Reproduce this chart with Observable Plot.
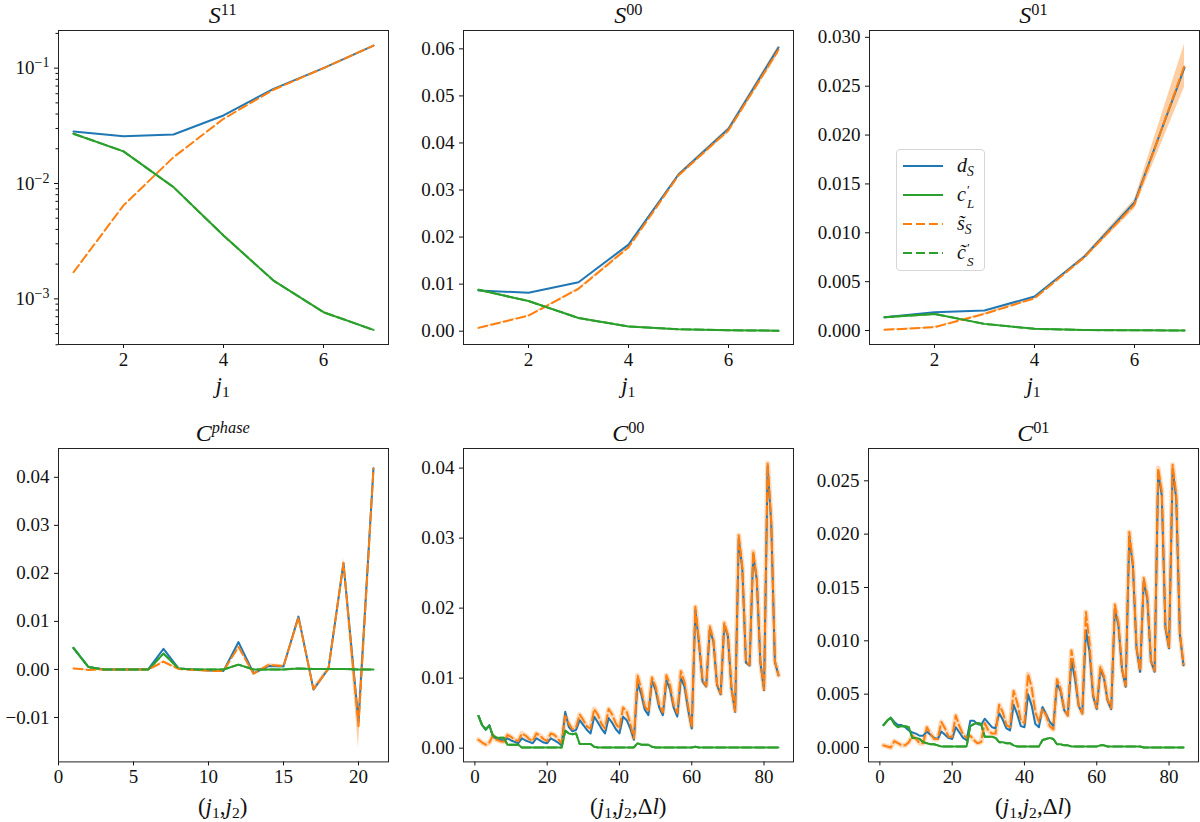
<!DOCTYPE html>
<html>
<head>
<meta charset="utf-8">
<script src="https://cdn.jsdelivr.net/npm/d3@7"></script>
<script src="https://cdn.jsdelivr.net/npm/@observablehq/plot@0.6"></script>
<style>
  body { margin: 0; background: #fff; }
  #fig { position: relative; width: 1200px; height: 822px; overflow: hidden;
         font-family: "Liberation Serif", "DejaVu Serif", serif; color: #111; }
  .panel { position: absolute; }
  .panel svg, .panel svg text { font-family: "Liberation Serif", "DejaVu Serif", serif !important; }
  .title, .xlab { position: absolute; width: 330px; text-align: center; line-height: 1; white-space: nowrap; }
  .title { font-size: 24px; }
  .xlab { font-size: 23px; }
  sup { font-size: 0.68em; vertical-align: 0.5em; line-height: 0; }
  sub { font-size: 0.68em; vertical-align: -0.28em; line-height: 0; }
  .ps { display: inline-block; position: relative; width: 12px; height: 1px; }
  .ps > span { position: absolute; left: 1px; font-size: 13px; line-height: 13px; height: 13px; }
  .ps > .pr { top: -17px; }
  .ps > .sb { top: -3px; }
  .legend { position: absolute; background: rgba(255,255,255,0.85); border: 1px solid #d6d6d6;
            border-radius: 4px; box-sizing: border-box; font-size: 20px; }
  .legend .row { position: absolute; left: 0; height: 29px; display: flex; align-items: center; }
  .legend svg { margin-left: 6px; margin-right: 14px; }
</style>
</head>
<body>
<div id="fig"></div>
<script>
// ---- data ----
const j1 = [1, 2, 3, 4, 5, 6, 7];

// S^11 (log scale)
const s11_d = [0.0282, 0.0257, 0.0266, 0.0389, 0.0662, 0.100, 0.157];
const s11_c = [0.0270, 0.0190, 0.0093, 0.00354, 0.00144, 0.000766, 0.000538];
const s11_s = [0.0017, 0.00646, 0.0169, 0.0364, 0.0650, 0.100, 0.157];

// S^00
const s00_d = [0.00865, 0.00815, 0.0104, 0.0184, 0.0333, 0.0430, 0.0603];
const s00_c = [0.0088, 0.0064, 0.0028, 0.0010, 0.0004, 0.0002, 0.0001];
const s00_s = [0.0007, 0.0033, 0.0090, 0.0178, 0.0331, 0.0427, 0.0598];
const s00_err = [0.0001, 0.0001, 0.0002, 0.0003, 0.0004, 0.0006, 0.0009];

// S^01
const s01_d = [0.00136, 0.00187, 0.00205, 0.00348, 0.00757, 0.0131, 0.0269];
const s01_c = [0.00136, 0.0017, 0.00068, 0.00017, 0.00005, 0.00002, 0.00001];
const s01_s = [0.00007, 0.00034, 0.0017, 0.0033, 0.0075, 0.0129, 0.0271];
const s01_err = [0.00003, 0.00005, 0.0001, 0.0001, 0.0002, 0.0005, 0.0022];

// C^phase
const cp_x = d3.range(1, 22);
const cp_d = [0.0044, 0.0005, 0.0000, 0.0000, 0.0000, 0.0001, 0.0043, 0.0002, 0.0000, -0.0002, -0.0003,
              0.0057, -0.0008, 0.0007, 0.0006, 0.0110, -0.0042, 0.0002, 0.0221, -0.0109, 0.0419];
const cp_c = [0.0045, 0.0005, 0.0000, 0.0000, 0.0000, 0.0000, 0.0033, 0.0002, 0.0000, 0.0000, 0.0000,
              0.0010, 0.0000, 0.0000, 0.0000, 0.0002, 0.0001, 0.0001, 0.0001, 0.0000, 0.0000];
const cp_s = [0.0002, -0.0001, 0.0000, 0.0000, 0.0000, 0.0000, 0.0016, 0.0001, -0.0001, -0.0003, -0.0003,
              0.0047, -0.0009, 0.0009, 0.0007, 0.0108, -0.0041, 0.0001, 0.0222, -0.0118, 0.0418];
const cp_err = [0.0001, 0.0001, 0.0001, 0.0001, 0.0001, 0.0001, 0.0002, 0.0001, 0.0001, 0.0001, 0.0001,
                0.0003, 0.0003, 0.0003, 0.0003, 0.0005, 0.0005, 0.0005, 0.0010, 0.0045, 0.0012];

// C^00 and C^01, index over (j1, j2, dl)
const c_x = d3.range(1, 85);
const c00_d = [0.0046, 0.0033, 0.0026, 0.0033, 0.0016, 0.0014, 0.0012, 0.0011,
  0.0014, 0.0011, 0.0009, 0.0007, 0.0014, 0.0011, 0.0009, 0.0007,
  0.0014, 0.0011, 0.0008, 0.0007, 0.0014, 0.0011, 0.0008, 0.0004,
  0.0052, 0.0030, 0.0024, 0.0026, 0.0040, 0.0033, 0.0026, 0.0021,
  0.0045, 0.0037, 0.0028, 0.0021, 0.0043, 0.0036, 0.0027, 0.0021,
  0.0045, 0.0040, 0.0028, 0.0012,
  0.0093, 0.0078, 0.0055, 0.0047, 0.0097, 0.0083, 0.0058, 0.0047,
  0.0097, 0.0084, 0.0058, 0.0045, 0.0100, 0.0088, 0.0055, 0.0028,
  0.0197, 0.0150, 0.0095, 0.0088, 0.0170, 0.0152, 0.0090, 0.0077,
  0.0176, 0.0160, 0.0085, 0.0052,
  0.0300, 0.0255, 0.0122, 0.0118, 0.0277, 0.0240, 0.0122, 0.0083,
  0.0403, 0.0320, 0.0123, 0.0104];
const c00_s = [0.0012, 0.0008, 0.0005, 0.0008, 0.0018, 0.0012, 0.0010, 0.0009,
  0.0019, 0.0016, 0.0012, 0.0010, 0.0021, 0.0018, 0.0013, 0.0010,
  0.0021, 0.0018, 0.0013, 0.0010, 0.0021, 0.0019, 0.0013, 0.0007,
  0.0046, 0.0035, 0.0027, 0.0030, 0.0048, 0.0040, 0.0031, 0.0028,
  0.0056, 0.0048, 0.0035, 0.0028, 0.0056, 0.0048, 0.0035, 0.0028,
  0.0058, 0.0052, 0.0035, 0.0014,
  0.0104, 0.0085, 0.0060, 0.0052, 0.0101, 0.0088, 0.0062, 0.0051,
  0.0104, 0.0090, 0.0062, 0.0050, 0.0110, 0.0094, 0.0060, 0.0030,
  0.0202, 0.0153, 0.0097, 0.0089, 0.0174, 0.0155, 0.0092, 0.0078,
  0.0179, 0.0162, 0.0086, 0.0053,
  0.0304, 0.0258, 0.0124, 0.0119, 0.0281, 0.0243, 0.0124, 0.0084,
  0.0407, 0.0324, 0.0125, 0.0104];
const c00_c = [0.0046, 0.0033, 0.0027, 0.0032, 0.0018, 0.0015, 0.0015, 0.0015,
  0.0005, 0.0005, 0.0005, 0.0005, 0.0001, 0.0001, 0.0001, 0.0001,
  0.0001, 0.0001, 0.0001, 0.0001, 0.0001, 0.0001, 0.0001, 0.0001,
  0.0025, 0.0021, 0.0020, 0.0021, 0.0006, 0.0006, 0.0006, 0.0006,
  0.0002, 0.0001, 0.0001, 0.0001, 0.0001, 0.0001, 0.0001, 0.0001,
  0.0001, 0.0001, 0.0001, 0.0001,
  0.0007, 0.0005, 0.0005, 0.0005, 0.0002, 0.0001, 0.0001, 0.0001,
  0.0001, 0.0001, 0.0001, 0.0001, 0.0001, 0.0001, 0.0001, 0.0001,
  0.0002, 0.0001, 0.0001, 0.0001, 0.0001, 0.0001, 0.0001, 0.0001,
  0.0001, 0.0001, 0.0001, 0.0001,
  0.0001, 0.0001, 0.0001, 0.0001, 0.0001, 0.0001, 0.0001, 0.0001,
  0.0001, 0.0001, 0.0001, 0.0001];

const c01_d = [0.0021, 0.0025, 0.0028, 0.0024, 0.0021, 0.0021, 0.0019, 0.0016,
  0.0014, 0.0013, 0.0011, 0.0011, 0.0015, 0.0012, 0.0009, 0.0008,
  0.0015, 0.0012, 0.0009, 0.0008, 0.0019, 0.0014, 0.0009, 0.0007,
  0.0025, 0.0025, 0.0022, 0.0021, 0.0027, 0.0023, 0.0019, 0.0018,
  0.0032, 0.0026, 0.0018, 0.0016, 0.0040, 0.0031, 0.0020, 0.0019,
  0.0050, 0.0039, 0.0022, 0.0019,
  0.0038, 0.0031, 0.0024, 0.0020, 0.0060, 0.0053, 0.0035, 0.0030,
  0.0082, 0.0064, 0.0039, 0.0032, 0.0110, 0.0090, 0.0048, 0.0036,
  0.0073, 0.0065, 0.0044, 0.0036, 0.0130, 0.0114, 0.0073, 0.0057,
  0.0198, 0.0170, 0.0093, 0.0071,
  0.0156, 0.0139, 0.0081, 0.0071, 0.0258, 0.0236, 0.0112, 0.0093,
  0.0261, 0.0233, 0.0106, 0.0077];
const c01_s = [0.0002, 0.0001, 0.0000, 0.0006, 0.0004, 0.0002, 0.0002, 0.0005,
  0.0011, 0.0008, 0.0004, 0.0004, 0.0019, 0.0013, 0.0008, 0.0008,
  0.0024, 0.0018, 0.0010, 0.0010, 0.0030, 0.0020, 0.0012, 0.0009,
  0.0011, 0.0007, 0.0004, 0.0005, 0.0023, 0.0016, 0.0013, 0.0013,
  0.0040, 0.0033, 0.0021, 0.0019, 0.0053, 0.0042, 0.0025, 0.0023,
  0.0069, 0.0056, 0.0033, 0.0024,
  0.0036, 0.0030, 0.0020, 0.0017, 0.0064, 0.0055, 0.0036, 0.0030,
  0.0091, 0.0070, 0.0040, 0.0032, 0.0127, 0.0098, 0.0050, 0.0037,
  0.0076, 0.0067, 0.0045, 0.0037, 0.0134, 0.0117, 0.0074, 0.0058,
  0.0202, 0.0173, 0.0094, 0.0072,
  0.0159, 0.0142, 0.0082, 0.0072, 0.0262, 0.0240, 0.0114, 0.0094,
  0.0265, 0.0237, 0.0108, 0.0078];
const c01_c = [0.0021, 0.0025, 0.0028, 0.0022, 0.0019, 0.0020, 0.0020, 0.0019,
  0.0009, 0.0009, 0.0008, 0.0005, 0.0004, 0.0003, 0.0003, 0.0002,
  0.0001, 0.0001, 0.0001, 0.0001, 0.0001, 0.0001, 0.0001, 0.0001,
  0.0020, 0.0022, 0.0023, 0.0022, 0.0010, 0.0010, 0.0010, 0.0009,
  0.0005, 0.0005, 0.0004, 0.0004, 0.0002, 0.0001, 0.0001, 0.0001,
  0.0001, 0.0001, 0.0001, 0.0001,
  0.0007, 0.0008, 0.0009, 0.0008, 0.0003, 0.0003, 0.0002, 0.0002,
  0.0001, 0.0001, 0.0001, 0.0001, 0.0001, 0.0001, 0.0001, 0.0001,
  0.0002, 0.0002, 0.0001, 0.0001, 0.0001, 0.0001, 0.0001, 0.0001,
  0.0001, 0.0001, 0.0001, 0.0001,
  0.0000, 0.0000, 0.0000, 0.0000, 0.0000, 0.0000, 0.0000, 0.0000,
  0.0000, 0.0000, 0.0000, 0.0000];

// ---- drawing ----
const BLUE = "#1f77b4", ORANGE = "#ff7f0e", GREEN = "#2ca02c";
const DASH = "9,4";
const fig = document.getElementById("fig");
const mL = 66, mR = 2, mT = 2, mB = 36;

function panel(p) {
  const rows = p.x.map((x, i) => ({
    x, d: p.d[i], c: p.c[i], s: p.s[i],
    lo: p.err ? p.s[i] - p.err[i] : null,
    hi: p.err ? p.s[i] + p.err[i] : null
  }));
  const marks = [];
  if (p.err) marks.push(Plot.areaY(rows, {x: "x", y1: "lo", y2: "hi", fill: ORANGE, fillOpacity: 0.38}));
  if (p.halo) marks.push(Plot.line(rows, {x: "x", y: "s", stroke: ORANGE, strokeOpacity: 0.28, strokeWidth: 5}));
  marks.push(
    Plot.line(rows, {x: "x", y: "d", stroke: BLUE, strokeWidth: 2}),
    Plot.line(rows, {x: "x", y: "c", stroke: GREEN, strokeWidth: 2}),
    Plot.line(rows, {x: "x", y: "s", stroke: ORANGE, strokeWidth: 2, strokeDasharray: DASH}),
    Plot.line(rows, {x: "x", y: "c", stroke: GREEN, strokeWidth: 2, strokeDasharray: DASH})
  );
  if (p.minor) marks.push(Plot.axisY({ticks: p.minor, tickSize: 2.5, tickFormat: () => ""}));
  marks.push(
    Plot.axisX({ticks: p.xTicks, tickSize: 4, tickPadding: 4, label: null, tickFormat: (d) => String(d)}),
    Plot.axisY({ticks: p.yTicks, tickSize: 4, tickPadding: 5, label: null, tickFormat: p.yFormat}),
    Plot.frame({stroke: "#222", strokeWidth: 1})
  );
  const w = p.w, h = p.h;
  const chart = Plot.plot({
    width: w + mL + mR, height: h + mT + mB,
    marginLeft: mL, marginRight: mR, marginTop: mT, marginBottom: mB,
    x: {domain: p.xDomain},
    y: {type: p.yType || "linear", domain: p.yDomain},
    style: "font-family: 'Liberation Serif', 'DejaVu Serif', serif; font-size: 19px; color: #111; background: transparent; overflow: visible;",
    marks
  });
  // render "10^-1" style tick labels with raised exponents
  chart.querySelectorAll("text").forEach((t) => {
    const s = t.textContent;
    if (s.includes("^")) {
      const [b, e] = s.split("^");
      t.textContent = b;
      const ts = document.createElementNS("http://www.w3.org/2000/svg", "tspan");
      ts.setAttribute("dy", "-0.5em");
      ts.setAttribute("font-size", "14px");
      ts.textContent = e;
      t.appendChild(ts);
    }
  });
  const div = document.createElement("div");
  div.className = "panel";
  div.style.left = (p.left - mL) + "px";
  div.style.top = (p.top - mT) + "px";
  div.style.width = (w + mL + mR) + "px";
  div.appendChild(chart);
  fig.appendChild(div);

  const t = document.createElement("div");
  t.className = "title";
  t.style.left = p.left + "px";
  t.style.width = w + "px";
  t.style.top = (p.top - 27) + "px";
  t.innerHTML = p.title;
  fig.appendChild(t);

  const xl = document.createElement("div");
  xl.className = "xlab";
  xl.style.left = p.left + "px";
  xl.style.width = w + "px";
  xl.style.top = (p.top + h + p.xlabOffset) + "px";
  xl.innerHTML = p.xlab;
  fig.appendChild(xl);
}

const log10Labels = {0.001: "10^−3", 0.01: "10^−2", 0.1: "10^−1"};
const minorLog = [0.0004, 0.0005, 0.0006, 0.0007, 0.0008, 0.0009,
  0.002, 0.003, 0.004, 0.005, 0.006, 0.007, 0.008, 0.009,
  0.02, 0.03, 0.04, 0.05, 0.06, 0.07, 0.08, 0.09, 0.2];
const f2 = d3.format(".2f"), f3 = d3.format(".3f");
const J1 = "<i>j</i><sub>1</sub>";

panel({left: 57.7, top: 30, w: 330, h: 314, x: j1, d: s11_d, c: s11_c, s: s11_s,
  xDomain: [0.7, 7.3], yType: "log", yDomain: [0.000402, 0.212],
  yTicks: [0.001, 0.01, 0.1], yFormat: (d) => log10Labels[d], minor: minorLog,
  xTicks: [2, 4, 6], title: "<i>S</i><sup>11</sup>", xlab: J1, xlabOffset: 30});

panel({left: 463.3, top: 30, w: 330, h: 314, x: j1, d: s00_d, c: s00_c, s: s00_s, err: s00_err,
  xDomain: [0.7, 7.3], yDomain: [-0.00283, 0.0639],
  yTicks: [0, 0.01, 0.02, 0.03, 0.04, 0.05, 0.06], yFormat: f2,
  xTicks: [2, 4, 6], title: "<i>S</i><sup>00</sup>", xlab: J1, xlabOffset: 30});

panel({left: 868.5, top: 30, w: 330, h: 314, x: j1, d: s01_d, c: s01_c, s: s01_s, err: s01_err,
  xDomain: [0.7, 7.3], yDomain: [-0.00143, 0.0307],
  yTicks: [0, 0.005, 0.01, 0.015, 0.02, 0.025, 0.03], yFormat: f3,
  xTicks: [2, 4, 6], title: "<i>S</i><sup>01</sup>", xlab: J1, xlabOffset: 30});

panel({left: 57.7, top: 448.3, w: 330, h: 313.4, x: cp_x, d: cp_d, c: cp_c, s: cp_s, err: cp_err,
  xDomain: [0, 22], yDomain: [-0.01925, 0.046],
  yTicks: [-0.01, 0, 0.01, 0.02, 0.03, 0.04], yFormat: f2,
  xTicks: [0, 5, 10, 15, 20], title: "<i>C</i><sup><i>phase</i></sup>",
  xlab: "(<i>j</i><sub>1</sub>,<i>j</i><sub>2</sub>)", xlabOffset: 33});

panel({left: 463.3, top: 448.3, w: 330, h: 313.4, x: c_x, d: c00_d, c: c00_c, s: c00_s, halo: true,
  xDomain: [-3.15, 88.15], yDomain: [-0.00196, 0.0428],
  yTicks: [0, 0.01, 0.02, 0.03, 0.04], yFormat: f2,
  xTicks: [0, 20, 40, 60, 80], title: "<i>C</i><sup>00</sup>",
  xlab: "(<i>j</i><sub>1</sub>,<i>j</i><sub>2</sub>,Δ<i>l</i>)", xlabOffset: 33});

panel({left: 868.3, top: 448.3, w: 330, h: 313.4, x: c_x, d: c01_d, c: c01_c, s: c01_s, halo: true,
  xDomain: [-3.15, 88.15], yDomain: [-0.00135, 0.02803],
  yTicks: [0, 0.005, 0.01, 0.015, 0.02, 0.025], yFormat: f3,
  xTicks: [0, 20, 40, 60, 80], title: "<i>C</i><sup>01</sup>",
  xlab: "(<i>j</i><sub>1</sub>,<i>j</i><sub>2</sub>,Δ<i>l</i>)", xlabOffset: 33});

// ---- legend (in the S^01 panel) ----
const legendItems = [
  {label: "<i>d</i><sub><i>S</i></sub>", color: BLUE, dash: null},
  {label: "<i>c</i><span class='ps'><span class='pr'>′</span><span class='sb'><i>L</i></span></span>", color: GREEN, dash: null},
  {label: "<i>s̃</i><sub><i>S</i></sub>", color: ORANGE, dash: DASH},
  {label: "<i>c̃</i><span class='ps'><span class='pr'>′</span><span class='sb'><i>S</i></span></span>", color: GREEN, dash: DASH}
];
const leg = document.createElement("div");
leg.className = "legend";
leg.style.left = "896px"; leg.style.top = "149px";
leg.style.width = "89px"; leg.style.height = "122px";
legendItems.forEach((it, i) => {
  const r = document.createElement("div");
  r.className = "row";
  r.style.top = (1 + i * 29) + "px";
  r.innerHTML = `<svg width="40" height="6"><line x1="0" y1="3" x2="40" y2="3" stroke="${it.color}" stroke-width="2"${it.dash ? ` stroke-dasharray="${it.dash}"` : ""}/></svg><span>${it.label}</span>`;
  leg.appendChild(r);
});
fig.appendChild(leg);
</script>
</body>
</html>
